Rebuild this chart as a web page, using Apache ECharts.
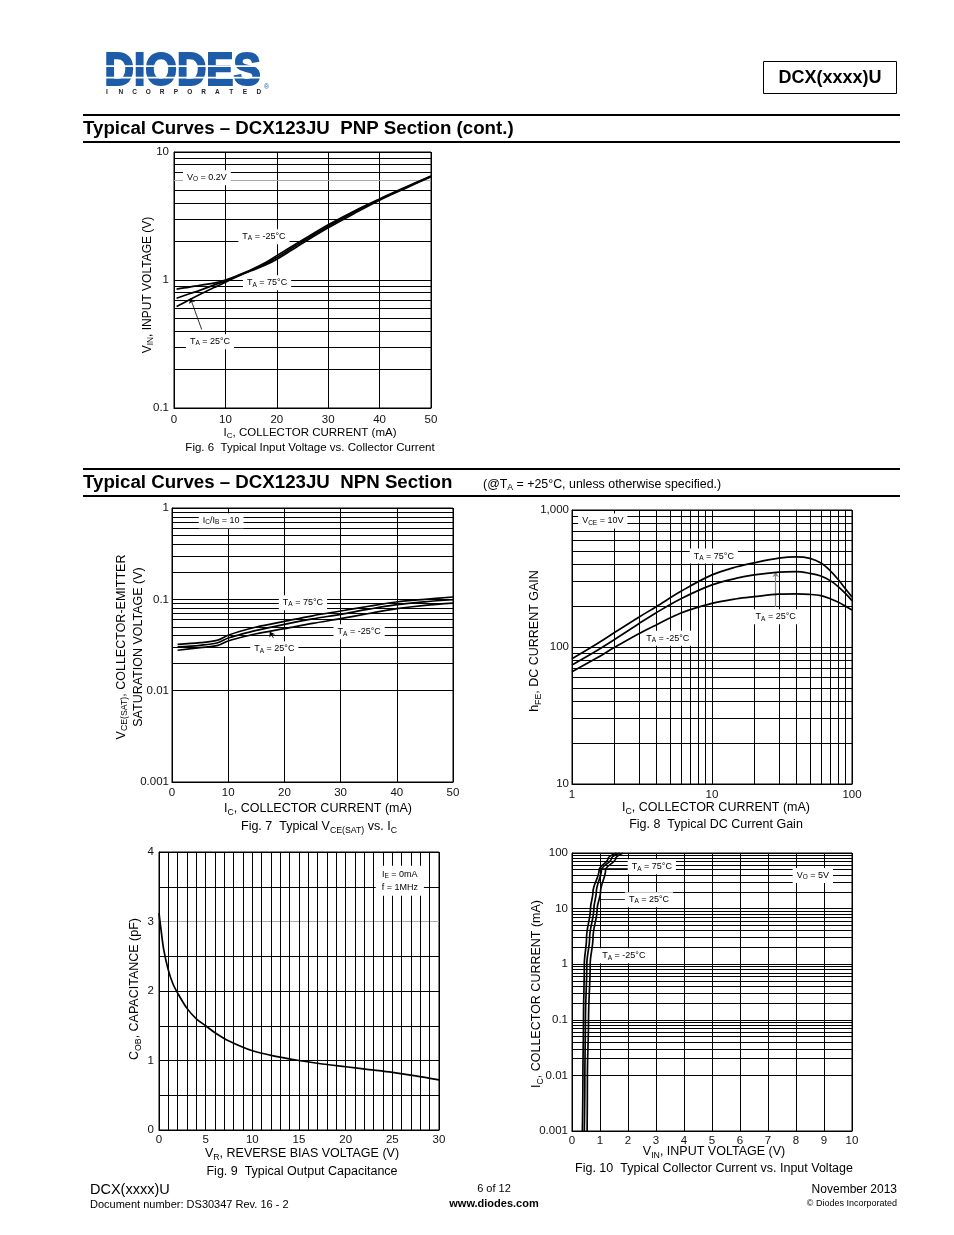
<!DOCTYPE html>
<html><head><meta charset="utf-8">
<script src="https://cdn.jsdelivr.net/npm/echarts@6/dist/echarts.min.js"></script>
<style>html,body{margin:0;padding:0;background:#fff}#c{width:954px;height:1235px}</style>
</head><body><div id="c"></div><script>
// ---------- DATA ----------
// Fig 6: PNP input voltage vs collector current
const fig6Ic = [0.5, 3, 5, 8, 10, 12, 15, 18, 20, 25, 30, 35, 40, 45, 50];
const fig6VinM25 = [0.85, 0.88, 0.91, 0.95, 1.0, 1.07, 1.2, 1.38, 1.55, 2.05, 2.7, 3.45, 4.3, 5.3, 6.5];
const fig6Vin25 = [0.72, 0.78, 0.83, 0.92, 0.98, 1.06, 1.19, 1.35, 1.5, 2.0, 2.63, 3.38, 4.25, 5.25, 6.45];
const fig6Vin75 = [0.62, 0.70, 0.77, 0.88, 0.96, 1.05, 1.18, 1.32, 1.45, 1.94, 2.56, 3.3, 4.2, 5.2, 6.4];
// Fig 7: NPN VCE(sat) vs IC
const fig7Ic = [1, 5, 8, 10, 12, 15, 20, 25, 30, 35, 40, 45, 50];
const fig7Vce75 = [0.0321, 0.0335, 0.0355, 0.0404, 0.0445, 0.0498, 0.0574, 0.066, 0.0745, 0.084, 0.0935, 0.1, 0.106];
const fig7Vce25 = [0.0301, 0.0314, 0.0333, 0.0377, 0.041, 0.0458, 0.0533, 0.061, 0.0685, 0.078, 0.0874, 0.094, 0.099];
const fig7VceM25 = [0.0277, 0.0296, 0.0311, 0.035, 0.038, 0.042, 0.0477, 0.0545, 0.0614, 0.07, 0.079, 0.086, 0.091];
// Fig 8: NPN DC current gain
const fig8Ic = [1, 1.5, 2, 3, 4, 6, 10, 15, 20, 30, 40, 50, 60, 70, 80, 90, 100];
const fig8Hfe75 = [82, 105, 127, 165, 197, 255, 336, 385, 412, 445, 455, 444, 410, 360, 310, 265, 232];
const fig8Hfe25 = [74, 94, 113, 148, 178, 225, 284, 318, 336, 352, 355, 345, 330, 305, 275, 245, 218];
const fig8HfeM25 = [66, 83, 99, 125, 145, 177, 208, 225, 233, 243, 244, 242, 237, 225, 212, 198, 186];
// Fig 9: output capacitance
const fig9Vr = [0, 0.2, 0.5, 1, 1.5, 2, 3, 4, 5, 6, 7.5, 10, 12.5, 15, 17.5, 20, 22.5, 25, 27.5, 30];
const fig9Cob = [3.12, 2.9, 2.6, 2.3, 2.1, 1.97, 1.75, 1.6, 1.5, 1.4, 1.28, 1.14, 1.06, 1.0, 0.95, 0.91, 0.87, 0.83, 0.78, 0.72];
// Fig 10: collector current vs input voltage
const fig10Ic = [0.001, 0.01, 0.1, 1, 3, 10, 20, 50, 80, 100];
const fig10Vin75 = [0.37, 0.39, 0.41, 0.44, 0.52, 0.66, 0.75, 0.97, 1.29, 1.59];
const fig10Vin25 = [0.44, 0.46, 0.48, 0.53, 0.63, 0.78, 0.87, 1.05, 1.41, 1.71];
const fig10VinM25 = [0.54, 0.55, 0.59, 0.65, 0.75, 0.9, 1.02, 1.2, 1.56, 1.83];

// ---------- STYLE ----------
const FONT = '"Liberation Sans", Arial, sans-serif';
const BLUE = '#1d5ca8';
const zip = (xs, ys) => xs.map((x, i) => [x, ys[i]]);
const zipYX = (ys, xs) => ys.map((y, i) => [xs[i], y]);
function logMinors(decades) {
  const out = [];
  decades.forEach(d => { for (let m = 2; m <= 9; m++) out.push(+(m * d).toPrecision(6)); });
  return out;
}
const labelRich = {
  n: {fontSize: 9, fontFamily: FONT, color: '#000'},
  s: {fontSize: 6.5, fontFamily: FONT, color: '#000', padding: [4, 0, 0, 0]}
};
const mkRich = (sz) => ({
  a: {fontSize: sz, fontFamily: FONT, color: '#000'},
  s: {fontSize: sz * 0.7, fontFamily: FONT, color: '#000', padding: [sz * 0.5, 0, 0, 0]}
});
const rich12 = mkRich(12), rich115 = mkRich(11.5), rich125 = mkRich(12.5);
const grids = [
  {left: 174, top: 152, width: 257, height: 256},
  {left: 172, top: 508, width: 281, height: 274},
  {left: 572, top: 510, width: 280, height: 274},
  {left: 159, top: 852, width: 280, height: 278},
  {left: 572, top: 853, width: 280, height: 278}
].map(g => Object.assign(g, {show: true, borderColor: '#000', borderWidth: 1, backgroundColor: '#fff'}));

const tickLabel = (margin, fmt) => ({show: true, color: '#111', fontFamily: FONT, fontSize: 11.5, margin: margin, formatter: fmt});
const split = {show: true, lineStyle: {color: '#000', width: 1}};
const logFmt = v => String(+(+v).toPrecision(3));
function axis(gi, type, min, max, interval, margin, extra) {
  return Object.assign({
    gridIndex: gi, type: type, min: min, max: max, interval: interval,
    axisLine: {show: true, lineStyle: {color: '#000', width: 1}},
    axisTick: {show: false},
    axisLabel: tickLabel(margin, type === 'log' ? logFmt : undefined),
    splitLine: split
  }, type === 'log' ? {logBase: 10} : {}, extra || {});
}
const xAxes = [
  axis(0, 'value', 0, 50, 10, 6),
  axis(1, 'value', 0, 50, 10, 5),
  axis(2, 'log', 1, 100, 1, 5),
  axis(3, 'value', 0, 30, 5, 4, {minorTick: {show: false, splitNumber: 5}, minorSplitLine: {show: true, lineStyle: {color: '#000', width: 1}}}),
  axis(4, 'value', 0, 10, 1, 4)
];
const yAxes = [
  axis(0, 'log', 0.1, 10, 1, 5),
  axis(1, 'log', 0.001, 1, 1, 3),
  axis(2, 'log', 10, 1000, 1, 3),
  axis(3, 'value', 0, 4, 1, 5, {minorTick: {show: false, splitNumber: 2}, minorSplitLine: {show: true, lineStyle: {color: '#000', width: 1}},
    splitLine: {show: true, lineStyle: {color: ['#000', '#000', '#000', '#aaa', '#000'], width: 1}}}),
  axis(4, 'log', 0.001, 100, 1, 4)
];
yAxes[2].axisLabel.formatter = v => (+v).toLocaleString('en-US');

function curve(gi, data, extra) {
  return Object.assign({
    type: 'line', xAxisIndex: gi, yAxisIndex: gi, data: data, showSymbol: false, symbol: 'none',
    smooth: 0.35, silent: true, z: 5, lineStyle: {color: '#000', width: 1.7}, animation: false
  }, extra || {});
}
function gridLines(gi, xs, ys, greys) {
  greys = greys || [];
  const data = [];
  (xs || []).forEach(v => data.push({xAxis: v}));
  (ys || []).forEach(v => data.push({yAxis: v, lineStyle: {color: greys.indexOf(v) >= 0 ? '#aaa' : '#000'}}));
  return {
    type: 'line', xAxisIndex: gi, yAxisIndex: gi, data: [], z: 2, silent: true, animation: false,
    markLine: {silent: true, symbol: ['none', 'none'], animation: false, label: {show: false},
      lineStyle: {type: 'solid', color: '#000', width: 1}, emphasis: {disabled: true}, data: data}
  };
}
function annotations(gi, items, leaders, noArrow) {
  return {
    type: 'line', xAxisIndex: gi, yAxisIndex: gi, data: [], z: 10, silent: true, animation: false,
    markPoint: {
      symbol: 'rect', symbolSize: 1, itemStyle: {color: 'rgba(0,0,0,0)'}, animation: false, silent: true,
      label: {show: true, position: 'inside', backgroundColor: '#fff', padding: [1, 4], rich: labelRich, lineHeight: 13},
      data: items.map(it => ({coord: [it[0], it[1]], label: Object.assign({formatter: it[2]}, it[3] || {})}))
    },
    markLine: leaders ? {
      silent: true, animation: false, label: {show: false}, symbol: noArrow ? ['none', 'none'] : ['none', 'arrow'], symbolSize: 5,
      lineStyle: {type: 'solid', color: '#000', width: 0.8},
      data: leaders.map(l => [{coord: l[0], lineStyle: l[2] ? {color: l[2], width: 1.2} : undefined}, {coord: l[1]}])
    } : undefined
  };
}
const TA = t => '{n|T}{s|A}{n| = ' + t + '°C}';

const series = [
  // Fig 6
  gridLines(0, null, logMinors([0.1, 1]), [6]),
  curve(0, zip(fig6Ic, fig6VinM25)), curve(0, zip(fig6Ic, fig6Vin25)), curve(0, zip(fig6Ic, fig6Vin75)),
  annotations(0, [[6.4, 6.3, '{n|V}{s|O}{n| = 0.2V}'], [17.5, 2.18, TA('-25')], [18.1, 0.95, TA('75')], [7.0, 0.33, TA('25')]],
    [[[5.39, 0.41], [3.19, 0.72]]]),
  // Fig 7
  gridLines(1, null, logMinors([0.001, 0.01, 0.1])),
  curve(1, zip(fig7Ic, fig7Vce75)), curve(1, zip(fig7Ic, fig7Vce25)), curve(1, zip(fig7Ic, fig7VceM25)),
  annotations(1, [[8.75, 0.726, '{n|I}{s|C}{n|/I}{s|B}{n| = 10}'], [23.3, 0.0919, TA('75')], [33.3, 0.0442, TA('-25')], [18.2, 0.0288, TA('25')]],
    [[[18.06, 0.0376], [17.4, 0.0443]]]),
  // Fig 8
  gridLines(2, logMinors([1, 10]), logMinors([10, 100])),
  curve(2, zip(fig8Ic, fig8Hfe75)), curve(2, zip(fig8Ic, fig8Hfe25)), curve(2, zip(fig8Ic, fig8HfeM25)),
  annotations(2, [[1.66, 831, '{n|V}{s|CE}{n| = 10V}'], [10.3, 461, TA('75')], [28.5, 166, TA('25')], [4.83, 116, TA('-25')]],
    [[[28.5, 196], [28.5, 352], '#888']]),
  // Fig 9
  curve(3, zip(fig9Vr, fig9Cob), {smooth: 0.3}),
  annotations(3, [[25.8, 3.585, '{n|I}{s|E}{n| = 0mA}\n{n|f = 1MHz}', {padding: [2, 6]}]]),
  // Fig 10
  gridLines(4, null, logMinors([0.001, 0.01, 0.1, 1, 10])),
  curve(4, zipYX(fig10Ic, fig10Vin75), {smoothMonotone: 'y'}), curve(4, zipYX(fig10Ic, fig10Vin25), {smoothMonotone: 'y'}), curve(4, zipYX(fig10Ic, fig10VinM25), {smoothMonotone: 'y'}),
  annotations(4, [[2.85, 56.6, TA('75')], [2.75, 14.5, TA('25')], [1.85, 1.42, TA('-25')], [8.6, 39.2, '{n|V}{s|O}{n| = 5V}']],
    [[[1.05, 52.9], [2.07, 52.9]], [[0.96, 14.6], [1.92, 14.6]]], true)
];

// ---------- PAGE TEXT ----------
function txt(x, y, text, opt) {
  opt = opt || {};
  const st = {text: text, fill: opt.color || '#000', fontFamily: opt.font || FONT, fontSize: opt.size || 12,
    fontWeight: opt.bold ? 'bold' : 'normal', align: opt.align || 'left', verticalAlign: opt.va || 'middle',
    rich: opt.rich, lineHeight: opt.lh};
  if (opt.stroke) { st.stroke = opt.stroke; st.lineWidth = opt.lw || 1; }
  return {type: 'text', x: x, y: y, rotation: opt.rot || 0, silent: true, z: 50,
    scaleX: opt.sx || 1, originX: 0, originY: 0, style: st};
}
const rect = (x, y, w, h, fill) => ({type: 'rect', silent: true, z: 51, shape: {x: x, y: y, width: w, height: h}, style: {fill: fill || '#000'}});
const R = Math.PI / 2;
const graphics = [
  // logo
  txt(104.5, 72, 'DIODES', {size: 46, bold: true, color: BLUE, sx: 0.885, stroke: BLUE, lw: 2.2}),
  rect(100, 65.3, 166, 1.7, '#fff'), rect(100, 76.8, 166, 1.7, '#fff'),
  txt(264, 87, '®', {size: 7, color: BLUE}),
  // header box
  {type: 'rect', silent: true, z: 50, shape: {x: 763.5, y: 61.5, width: 133, height: 32}, style: {fill: '#fff', stroke: '#000', lineWidth: 1}},
  txt(830, 78, 'DCX(xxxx)U', {size: 18, bold: true, align: 'center'}),
  // section rules and titles
  rect(83, 114, 817, 2), rect(83, 141, 817, 2), rect(83, 468, 817, 2), rect(83, 495, 817, 2),
  txt(83, 129, 'Typical Curves – DCX123JU  PNP Section (cont.)', {size: 18.7, bold: true}),
  txt(83, 483, 'Typical Curves – DCX123JU  NPN Section', {size: 18.7, bold: true}),
  txt(483, 485, '{a|(@T}{s|A}{a| = +25°C, unless otherwise specified.)}', {rich: mkRich(12.4)}),
  // Fig 6 texts
  txt(148, 285, '{a|V}{s|IN}{a|, INPUT VOLTAGE (V)}', {rot: R, align: 'center', rich: rich12}),
  txt(310, 433, '{a|I}{s|C}{a|, COLLECTOR CURRENT (mA)}', {align: 'center', rich: rich115}),
  txt(310, 448, 'Fig. 6  Typical Input Voltage vs. Collector Current', {size: 11.5, align: 'center'}),
  // Fig 7 texts
  txt(130, 647, '{a|V}{s|CE(SAT)}{a|, COLLECTOR-EMITTER}\n{a|SATURATION VOLTAGE (V)}', {rot: R, align: 'center', rich: rich125, lh: 17}),
  txt(318, 809, '{a|I}{s|C}{a|, COLLECTOR CURRENT (mA)}', {align: 'center', rich: rich125}),
  txt(319, 827, '{a|Fig. 7  Typical V}{s|CE(SAT)}{a| vs. I}{s|C}', {align: 'center', rich: rich125}),
  // Fig 8 texts
  txt(535, 641, '{a|h}{s|FE}{a|, DC CURRENT GAIN}', {rot: R, align: 'center', rich: rich125}),
  txt(716, 808, '{a|I}{s|C}{a|, COLLECTOR CURRENT (mA)}', {align: 'center', rich: rich125}),
  txt(716, 825, 'Fig. 8  Typical DC Current Gain', {size: 12.5, align: 'center'}),
  // Fig 9 texts
  txt(135, 989, '{a|C}{s|OB}{a|, CAPACITANCE (pF)}', {rot: R, align: 'center', rich: rich125}),
  txt(302, 1154, '{a|V}{s|R}{a|, REVERSE BIAS VOLTAGE (V)}', {align: 'center', rich: rich125}),
  txt(302, 1172, 'Fig. 9  Typical Output Capacitance', {size: 12.5, align: 'center'}),
  // Fig 10 texts
  txt(537, 994, '{a|I}{s|C}{a|, COLLECTOR CURRENT (mA)}', {rot: R, align: 'center', rich: rich125}),
  txt(714, 1152, '{a|V}{s|IN}{a|, INPUT VOLTAGE (V)}', {align: 'center', rich: rich125}),
  txt(714, 1169, 'Fig. 10  Typical Collector Current vs. Input Voltage', {size: 12.5, align: 'center'}),
  // footer
  txt(90, 1190, 'DCX(xxxx)U', {size: 14.5}),
  txt(90, 1205, 'Document number: DS30347 Rev. 16 - 2', {size: 11}),
  txt(494, 1189, '6 of 12', {size: 11, align: 'center'}),
  txt(494, 1204, 'www.diodes.com', {size: 11, bold: true, align: 'center'}),
  txt(897, 1190, 'November 2013', {size: 12, align: 'right'}),
  txt(897, 1204, '© Diodes Incorporated', {size: 9, align: 'right'})
];
'INCORPORATED'.split('').forEach((ch, i) => graphics.push(txt(107 + i * 13.8, 92.5, ch, {size: 6.5, bold: true, color: '#222', align: 'center'})));

const chart = echarts.init(document.getElementById('c'), null, {renderer: 'canvas', width: 954, height: 1235});
chart.setOption({
  animation: false,
  backgroundColor: '#fff',
  grid: grids,
  xAxis: xAxes,
  yAxis: yAxes,
  series: series,
  graphic: graphics
});
</script></body></html>
